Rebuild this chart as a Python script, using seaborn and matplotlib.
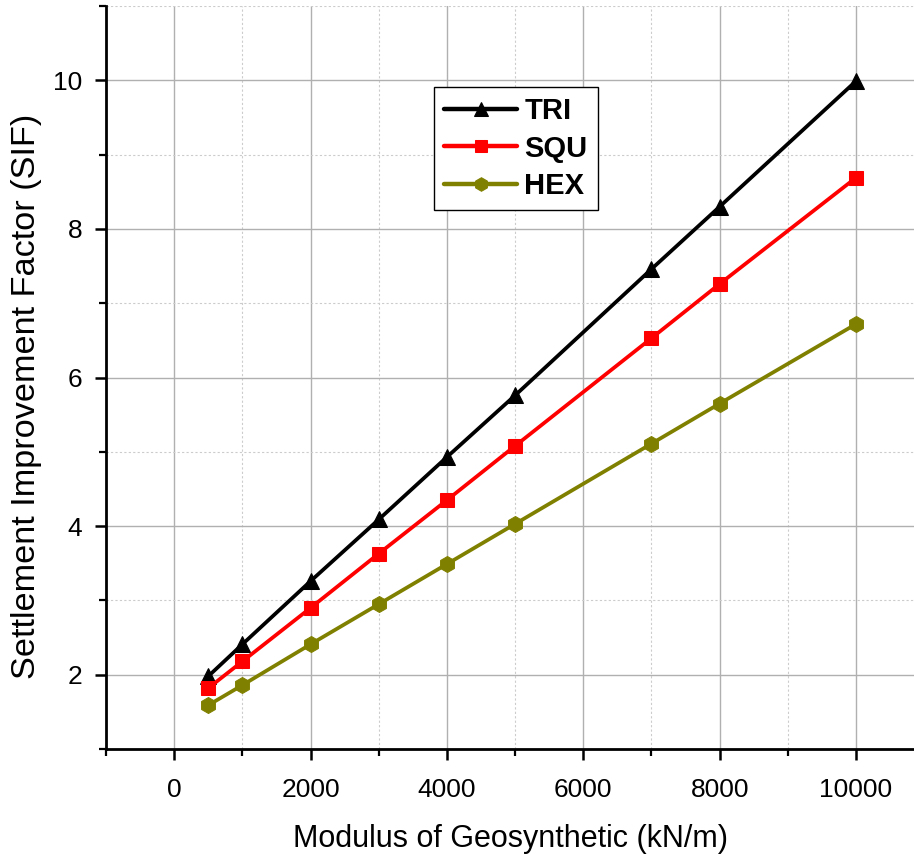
import numpy as np
import pandas as pd
import seaborn as sns
import matplotlib
matplotlib.use("Agg")
from matplotlib import pyplot as plt
from matplotlib.ticker import MultipleLocator

# values
modulus = [500, 1000, 2000, 3000, 4000, 5000, 7000, 8000, 10000]
tri = [1.98, 2.41, 3.26, 4.09, 4.93, 5.76, 7.46, 8.30, 9.99]
squ = [1.82, 2.18, 2.90, 3.63, 4.35, 5.08, 6.53, 7.26, 8.69]
hexa = [1.59, 1.86, 2.41, 2.95, 3.49, 4.03, 5.11, 5.65, 6.72]

series = ["TRI", "SQU", "HEX"]
colors = {"TRI": "black", "SQU": "#ff0000", "HEX": "#808000"}
markers = {"TRI": "^", "SQU": "s", "HEX": "h"}
msizes = {"TRI": 12, "SQU": 10, "HEX": 11.5}

df = pd.DataFrame({
    "Modulus": modulus * 3,
    "SIF": tri + squ + hexa,
    "Pattern": np.repeat(series, len(modulus)),
})

sns.set_style("white")
plt.rcParams["font.family"] = ["Liberation Sans", "DejaVu Sans"]
plt.rcParams["text.color"] = "black"
plt.rcParams["axes.labelcolor"] = "black"

fig = plt.figure(figsize=(9.14, 8.59), dpi=100)
ax = fig.add_axes([0.116, 0.128, 0.884, 0.865])

for name in series:
    sns.lineplot(data=df[df["Pattern"] == name], x="Modulus", y="SIF",
                 color=colors[name], marker=markers[name],
                 markersize=msizes[name], markeredgecolor=colors[name],
                 linewidth=2.7, label=name, ax=ax, zorder=3)

ax.set_xlim(-1000, 10850)
ax.set_ylim(1, 11)
ax.xaxis.set_major_locator(MultipleLocator(2000))
ax.xaxis.set_minor_locator(MultipleLocator(1000))
ax.yaxis.set_major_locator(MultipleLocator(2))
ax.yaxis.set_minor_locator(MultipleLocator(1))

ax.grid(which="major", color="#b0b0b0", linewidth=1.0, linestyle="-")
ax.grid(which="minor", color="#cccccc", linewidth=0.8, linestyle=(0, (2, 2)))
ax.set_axisbelow(True)

for s in ["top", "right"]:
    ax.spines[s].set_visible(False)
for s in ["left", "bottom"]:
    ax.spines[s].set_color("black")
    ax.spines[s].set_linewidth(2.0)

ax.tick_params(which="major", direction="out", length=8, width=1.8,
               labelsize=19, colors="black", left=True, bottom=True, pad=9)
ax.tick_params(axis="x", which="major", pad=13)
ax.tick_params(which="minor", direction="out", length=5, width=1.6,
               left=True, bottom=True, colors="black")
ax.set_xticks([0, 2000, 4000, 6000, 8000, 10000])
ax.set_yticks([2, 4, 6, 8, 10])

ax.set_xlabel("Modulus of Geosynthetic (kN/m)", fontsize=22, labelpad=16)
ax.set_ylabel("Settlement Improvement Factor (SIF)", fontsize=24.7, labelpad=8)
ax.yaxis.label.set_y(0.474)

leg = ax.legend(loc="upper left", bbox_to_anchor=(0.406, 0.891),
                borderaxespad=0, frameon=True, fancybox=False,
                handlelength=2.5, handletextpad=0.25, labelspacing=0.32,
                borderpad=0.35, markerscale=0.85,
                prop={"weight": "bold", "size": 21})
leg.get_frame().set_edgecolor("black")
leg.get_frame().set_linewidth(1.0)
leg.get_frame().set_alpha(1)
for line in leg.get_lines():
    line.set_linewidth(3.2)

plt.savefig("out.png", dpi=100)
